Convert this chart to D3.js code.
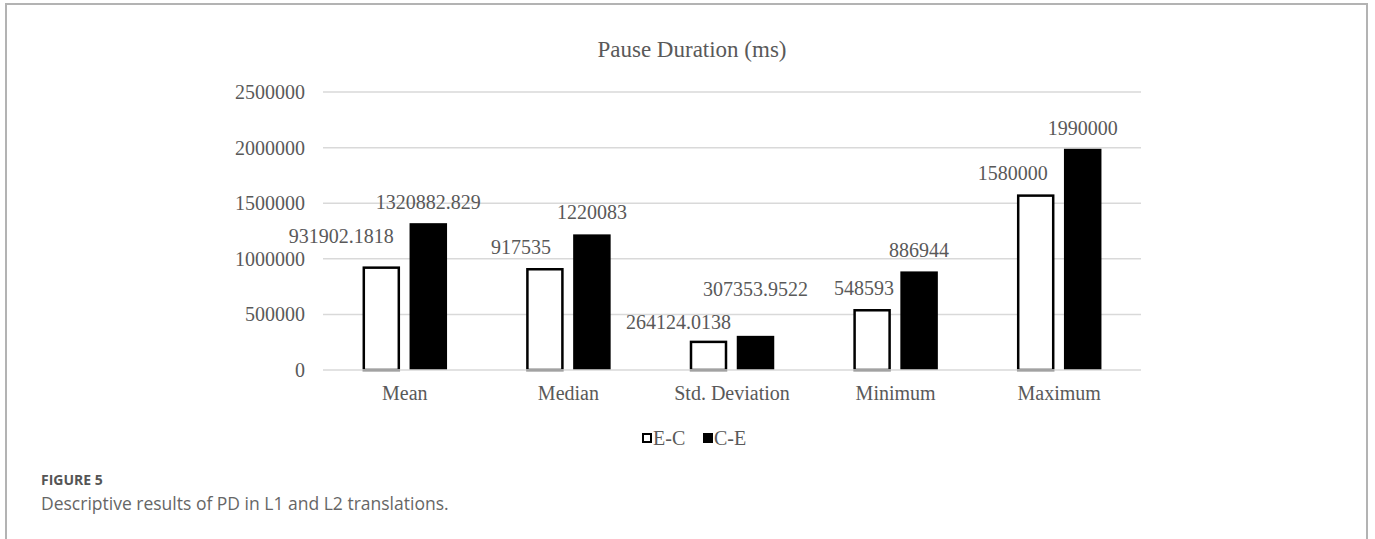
<!DOCTYPE html>
<html>
<head>
<meta charset="utf-8">
<script src="https://cdn.jsdelivr.net/npm/d3@7/dist/d3.min.js"></script>
<style>
  html, body { margin: 0; padding: 0; background: #fff; }
  svg { display: block; }
</style>
</head>
<body>
<svg id="chart" width="1375" height="539"></svg>
<script>
// Pause duration statistics per translation direction
const categories = ["Mean", "Median", "Std. Deviation", "Minimum", "Maximum"];
const seriesNames = ["E-C", "C-E"];
const valuesEC = [931902.1818, 917535, 264124.0138, 548593, 1580000];
const valuesCE = [1320882.829, 1220083, 307353.9522, 886944, 1990000];
const labelsEC = ["931902.1818", "917535", "264124.0138", "548593", "1580000"];
const labelsCE = ["1320882.829", "1220083", "307353.9522", "886944", "1990000"];
const yTicks = [0, 500000, 1000000, 1500000, 2000000, 2500000];

const titleText = "Pause Duration (ms)";
const figLabel = "FIGURE 5";
const figCaption = "Descriptive results of PD in L1 and L2 translations.";

// hand-placed offsets of some value labels (dx, dy in px)
const labelNudge = {
  "E-C": [[-40, -9], [-24, 0], [-30, 2], [-8, 0], [-23, 0]],
  "C-E": [[0, 0], [0, -1], [0, -26], [0, 0], [0, 0]]
};

const SERIF = '"Liberation Serif", "Times New Roman", serif';
const SANS = '"Open Sans", "Noto Sans", sans-serif';
const TXT = "#595959";

const svg = d3.select("#chart");
const H = 539;

// outer frame (left, top, right)
svg.append("path")
  .attr("d", `M6,${H} L6,4 L1367,4 L1367,${H}`)
  .attr("fill", "none")
  .attr("stroke", "#b3b3b3")
  .attr("stroke-width", 2);

const plot = { left: 323, right: 1141, top: 92.1, bottom: 370 };

const y = d3.scaleLinear().domain([0, 2500000]).range([plot.bottom, plot.top]);
const x0 = d3.scaleBand().domain(categories)
  .range([plot.left, plot.right])
  .paddingInner(0.4835).paddingOuter(0.24175);
const x1 = d3.scaleBand().domain(seriesNames)
  .range([0, x0.bandwidth()])
  .paddingInner(0.202);

// y labels via axis
const yAxis = d3.axisLeft(y).tickValues(yTicks).tickSize(0).tickPadding(18)
  .tickFormat(d3.format("d"));
const yg = svg.append("g").attr("transform", `translate(${plot.left},0)`).call(yAxis);
yg.select(".domain").remove();
yg.selectAll("text")
  .style("font-family", SERIF)
  .style("font-size", "20px")
  .attr("fill", TXT);

// horizontal gridlines
svg.append("g").selectAll("line")
  .data(yTicks.filter(d => d !== 0))
  .join("line")
  .attr("x1", plot.left).attr("x2", plot.right)
  .attr("y1", d => y(d)).attr("y2", d => y(d))
  .attr("stroke", "#d9d9d9").attr("stroke-width", 1.5);

// bars
const rows = categories.map((c, i) => ({
  cat: c,
  items: [
    { s: "E-C", v: valuesEC[i], label: labelsEC[i], i },
    { s: "C-E", v: valuesCE[i], label: labelsCE[i], i }
  ]
}));

const groups = svg.append("g").selectAll("g")
  .data(rows).join("g")
  .attr("transform", d => `translate(${x0(d.cat)},0)`);

groups.selectAll("rect")
  .data(d => d.items).join("rect")
  .attr("x", d => x1(d.s) + (d.s === "E-C" ? 1.25 : 0))
  .attr("width", d => x1.bandwidth() - (d.s === "E-C" ? 2.5 : 0))
  .attr("y", d => y(d.v) + (d.s === "E-C" ? 1.25 : 0))
  .attr("height", d => y(0) - y(d.v) - (d.s === "E-C" ? 1.25 : 0))
  .attr("fill", d => d.s === "E-C" ? "#ffffff" : "#000000")
  .attr("stroke", d => d.s === "E-C" ? "#000000" : "none")
  .attr("stroke-width", 2.5);

groups.selectAll("text.val")
  .data(d => d.items).join("text")
  .attr("class", "val")
  .style("font-family", SERIF)
  .style("font-size", "20px")
  .attr("fill", TXT)
  .attr("text-anchor", "middle")
  .attr("x", d => x1(d.s) + x1.bandwidth() / 2 + labelNudge[d.s][d.i][0])
  .attr("y", d => y(d.v) - 14 + labelNudge[d.s][d.i][1])
  .text(d => d.label);

// category axis line
svg.append("line")
  .attr("x1", plot.left).attr("x2", plot.right)
  .attr("y1", y(0)).attr("y2", y(0))
  .attr("stroke", "#d9d9d9").attr("stroke-width", 1.5);

const xAxis = d3.axisBottom(x0).tickSize(0).tickPadding(0);
const xg = svg.append("g").attr("transform", `translate(0,${y(0)})`).call(xAxis);
xg.select(".domain").remove();
xg.selectAll("text")
  .style("font-family", SERIF)
  .style("font-size", "20px")
  .attr("fill", TXT)
  .attr("dy", null)
  .attr("y", 30);

// title
svg.append("text")
  .style("font-family", SERIF)
  .style("font-size", "23px")
  .attr("fill", TXT)
  .attr("x", 692).attr("y", 57)
  .attr("text-anchor", "middle")
  .text(titleText);

// legend
const legend = svg.append("g");
const legendItems = [
  { s: "E-C", x: 642 },
  { s: "C-E", x: 703 }
];
legendItems.forEach(it => {
  const open = it.s === "E-C";
  legend.append("rect")
    .attr("x", it.x + (open ? 1 : 0))
    .attr("y", 433 + (open ? 1 : 0))
    .attr("width", open ? 8 : 10)
    .attr("height", open ? 8 : 10)
    .attr("fill", open ? "#fff" : "#000")
    .attr("stroke", open ? "#000" : "none")
    .attr("stroke-width", 2);
  legend.append("text")
    .style("font-family", SERIF)
    .style("font-size", "20px")
    .attr("fill", TXT)
    .attr("x", it.x + 11).attr("y", 445)
    .text(it.s);
});

// caption
svg.append("text")
  .style("font-family", SANS)
  .style("font-size", "14px")
  .style("font-weight", 700)
  .attr("fill", "#555")
  .attr("x", 41).attr("y", 485)
  .text(figLabel);
svg.append("text")
  .style("font-family", SANS)
  .style("font-size", "17.5px")
  .attr("fill", "#666")
  .attr("x", 41).attr("y", 510)
  .text(figCaption);
</script>
</body>
</html>
